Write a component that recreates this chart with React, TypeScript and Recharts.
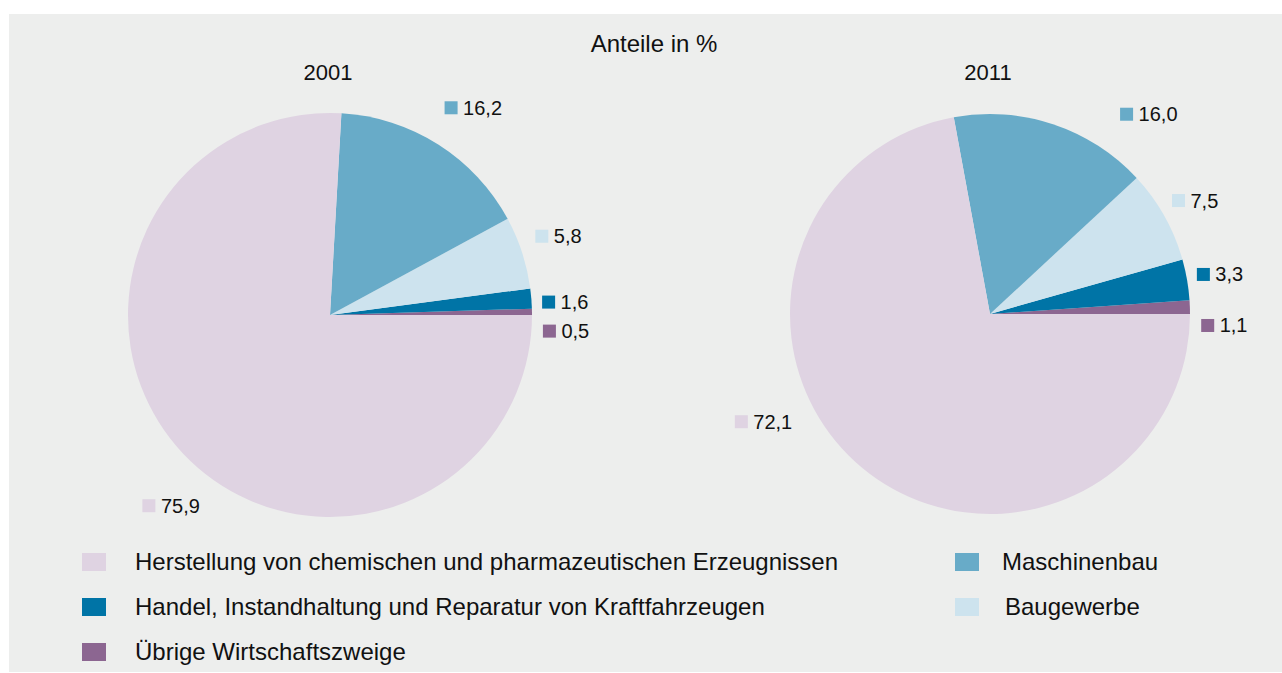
import { Legend, Pie, PieChart } from "recharts";

const CATEGORIES = [
  "Übrige Wirtschaftszweige",
  "Handel, Instandhaltung und Reparatur von Kraftfahrzeugen",
  "Baugewerbe",
  "Maschinenbau",
  "Herstellung von chemischen und pharmazeutischen Erzeugnissen",
];
const VALUES_2001 = [0.5, 1.6, 5.8, 16.2, 75.9];
const VALUES_2011 = [1.1, 3.3, 7.5, 16.0, 72.1];
const YEARS = ["2001", "2011"];
const TITLE = "Anteile in %";

const COLORS = ["#8c6691", "#0074a6", "#cde3ee", "#68abc8", "#dfd3e2"];
const BG = "#edeeed";
const FONT = "'Liberation Sans', Arial, Helvetica, sans-serif";

// label placement relative to slice: [angle shift in deg, extra radius]
const LABEL_SHIFT_2001: [number, number][] = [[-5.1, 18], [-1.3, 17], [2.4, 24], [2.1, 38], [3.1, 61]];
const LABEL_SHIFT_2011: [number, number][] = [[-5, 18], [0.6, 17], [1.7, 20], [-16, 42], [-26.8, 71]];

const RADIAN = Math.PI / 180;

const toRows = (vals: number[]) => CATEGORIES.map((name, i) => ({ name, value: vals[i], fill: COLORS[i] }));

function makeLabel(shift: [number, number][]) {
  return (props: any) => {
    const { cx, cy, midAngle, outerRadius, index, value } = props;
    const [da, dr] = shift[index];
    const a = (midAngle + da) * RADIAN;
    const r = outerRadius + dr;
    const x = cx + r * Math.cos(a);
    const y = cy - r * Math.sin(a);
    return (
      <g key={`lbl-${index}`}>
        <rect x={x - 6.5} y={y - 6.5} width={13} height={13} fill={COLORS[index]} />
        <text x={x + 12} y={y + 7} fontSize={20} fill="#111" fontFamily={FONT}>
          {value.toFixed(1).replace(".", ",")}
        </text>
      </g>
    );
  };
}

// legend order as in the picture
const LEGEND_LEFT = [4, 1, 0];
const LEGEND_RIGHT = [3, 2];

function LegendBlock() {
  const item = (i: number, textLeft: number) => (
    <div key={i} style={{ display: "flex", alignItems: "center", height: 45 }}>
      <span style={{ width: 24, height: 18, background: COLORS[i], display: "inline-block" }} />
      <span style={{ marginLeft: textLeft, fontSize: 24, color: "#111", fontFamily: FONT }}>{CATEGORIES[i]}</span>
    </div>
  );
  return (
    <div style={{ position: "relative", width: 1273, height: 140 }}>
      <div style={{ position: "absolute", left: 73, top: 0 }}>
        {LEGEND_LEFT.map((i) => item(i, 29))}
      </div>
      <div style={{ position: "absolute", left: 946, top: 0 }}>
        {LEGEND_RIGHT.map((i, k) => item(i, k === 0 ? 23 : 26))}
      </div>
    </div>
  );
}

export default function App() {
  const data2001 = toRows(VALUES_2001);
  const data2011 = toRows(VALUES_2011);
  return (
    <div style={{ position: "absolute", left: 9, top: 14, width: 1273, height: 658, background: BG, fontFamily: FONT }}>
      <div style={{ position: "absolute", left: 0, width: 1290, top: 16, textAlign: "center", fontSize: 24, color: "#111" }}>
        {TITLE}
      </div>
      <div style={{ position: "absolute", left: 219, width: 200, top: 46, textAlign: "center", fontSize: 22, color: "#111" }}>
        {YEARS[0]}
      </div>
      <div style={{ position: "absolute", left: 879, width: 200, top: 46, textAlign: "center", fontSize: 22, color: "#111" }}>
        {YEARS[1]}
      </div>
      <PieChart
        width={1273}
        height={658}
        margin={{ top: 0, right: 0, bottom: 0, left: 0 }}
        style={{ position: "absolute", left: 0, top: 0 }}
      >
        <Pie
          data={data2001}
          dataKey="value"
          nameKey="name"
          cx={321}
          cy={301}
          outerRadius={202}
          startAngle={0}
          endAngle={360}
          stroke="none"
          labelLine={false}
          label={makeLabel(LABEL_SHIFT_2001)}
          isAnimationActive={false}
        />
        <Pie
          data={data2011}
          dataKey="value"
          nameKey="name"
          cx={981}
          cy={300}
          outerRadius={200}
          startAngle={0}
          endAngle={360}
          stroke="none"
          labelLine={false}
          label={makeLabel(LABEL_SHIFT_2011)}
          isAnimationActive={false}
        />
        <Legend
          content={() => <LegendBlock />}
          wrapperStyle={{ position: "absolute", left: 0, top: 525, width: 1273 }}
        />
      </PieChart>
    </div>
  );
}
